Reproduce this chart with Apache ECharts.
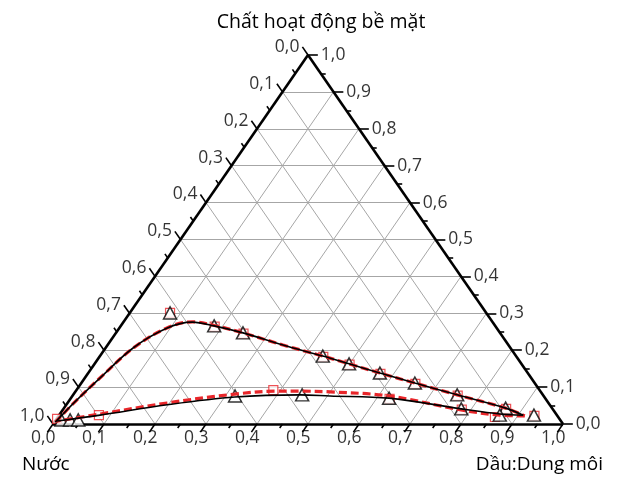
<!DOCTYPE html>
<html>
<head>
<meta charset="utf-8">
<script src="https://cdn.jsdelivr.net/npm/echarts@6/dist/echarts.min.js"></script>
<style>
  html, body { margin: 0; padding: 0; background: #fff; }
  #chart { width: 624px; height: 484px; }
</style>
</head>
<body>
<div id="chart"></div>
<script>
// phần khối lượng: dầu:dung môi (oil) và chất hoạt động bề mặt (surf); nước = 1 - oil - surf
const tickValues = [0, 0.1, 0.2, 0.3, 0.4, 0.5, 0.6, 0.7, 0.8, 0.9, 1.0];
const tickLabels = ['0,0', '0,1', '0,2', '0,3', '0,4', '0,5', '0,6', '0,7', '0,8', '0,9', '1,0'];
const minorValues = [0.05, 0.15, 0.25, 0.35, 0.45, 0.55, 0.65, 0.75, 0.85, 0.95];

// đường cong đen (nhánh trên, nhánh dưới)
const blackUpperOil  = [0.002, 0.013, 0.030, 0.054, 0.094, 0.135, 0.183, 0.249, 0.344, 0.437, 0.499, 0.572, 0.654, 0.753, 0.866, 0.910];
const blackUpperSurf = [0.005, 0.060, 0.125, 0.206, 0.260, 0.276, 0.266, 0.247, 0.214, 0.184, 0.163, 0.138, 0.111, 0.079, 0.043, 0.024];
const blackLowerOil  = [0.910, 0.863, 0.780, 0.624, 0.505, 0.445, 0.320, 0.198, 0.080, 0.004];
const blackLowerSurf = [0.024, 0.027, 0.041, 0.070, 0.076, 0.079, 0.073, 0.052, 0.024, 0.008];

// đường cong đỏ nét đứt
const redUpperOil  = [0.002, 0.013, 0.030, 0.055, 0.094, 0.135, 0.183, 0.249, 0.344, 0.437, 0.499, 0.572, 0.654, 0.753, 0.866, 0.914];
const redUpperSurf = [0.005, 0.060, 0.126, 0.207, 0.261, 0.277, 0.267, 0.247, 0.214, 0.184, 0.163, 0.138, 0.111, 0.079, 0.043, 0.022];
const redLowerOil  = [0.914, 0.864, 0.781, 0.621, 0.500, 0.440, 0.394, 0.316, 0.195, 0.079, 0.004];
const redLowerSurf = [0.022, 0.024, 0.038, 0.076, 0.087, 0.089, 0.089, 0.081, 0.057, 0.027, 0.008];

// điểm thực nghiệm
const triangleOil  = [0.079, 0.183, 0.249, 0.437, 0.499, 0.572, 0.654, 0.753, 0.866, 0.931, 0.864, 0.780, 0.624, 0.449, 0.319, 0.011, 0.028, 0.044];
const triangleSurf = [0.301, 0.266, 0.247, 0.184, 0.163, 0.138, 0.111, 0.079, 0.043, 0.024, 0.024, 0.041, 0.070, 0.079, 0.076, 0.011, 0.011, 0.011];
const squareOil  = [0.079, 0.185, 0.251, 0.439, 0.501, 0.574, 0.656, 0.755, 0.868, 0.933, 0.857, 0.782, 0.626, 0.386, 0.078, 0.001];
const squareSurf = [0.301, 0.264, 0.245, 0.182, 0.161, 0.136, 0.109, 0.077, 0.041, 0.022, 0.019, 0.039, 0.068, 0.092, 0.024, 0.014];

const toXY = (oil, surf) => [oil + surf / 2, surf];
const pts = (oil, surf) => oil.map((o, i) => toXY(o, surf[i]));

const TICK = 0.022, MINOR = 0.011, TICK_R = 0.0193, MINOR_R = 0.0097;

const chart = echarts.init(document.getElementById('chart'));

const gridLines = [];
for (let i = 1; i < 10; i++) {
  const v = tickValues[i];
  gridLines.push({ coords: [toXY(0, v), toXY(1 - v, v)] });
  gridLines.push({ coords: [toXY(v, 0), toXY(v, 1 - v)] });
  gridLines.push({ coords: [toXY(1 - v, 0), toXY(0, 1 - v)] });
}

const edges = [
  { coords: [toXY(0, 0), toXY(1, 0)] },
  { coords: [toXY(1, 0), toXY(0, 1)] },
  { coords: [toXY(0, 1), toXY(0, 0)] }
];

const ticks = [];
const addTicks = (vals, t, tr) => {
  vals.forEach(v => {
    // trục dưới (dầu:dung môi)
    ticks.push({ coords: [toXY(v, 0), toXY(v, -t)] });
    // trục trái (nước)
    ticks.push({ coords: [toXY(0, 1 - v), toXY(-t, 1 - v + t)] });
    // trục phải (chất hoạt động bề mặt)
    ticks.push({ coords: [toXY(1 - v, v), toXY(1 - v + tr, v)] });
  });
};
addTicks(tickValues, TICK, TICK_R);
addTicks(minorValues, MINOR, MINOR_R);

const FONT = 'Open Sans';
const labelFont = { fontSize: 17.5, fontFamily: FONT, color: '#000' };

const bottomLabels = tickValues.map((v, i) => ({ value: toXY(v, -0.038), name: tickLabels[i] }));
const leftLabels = tickValues.map((v, i) => ({ value: toXY(-TICK, 1 - v + TICK), name: tickLabels[i] }));
const rightLabels = tickValues.map((v, i) => ({ value: toXY(1 - v + TICK_R, v), name: tickLabels[i] }));

const labelSeries = (data, position) => ({
  type: 'scatter', data, symbolSize: 0, clip: false, silent: true,
  label: { show: true, position, distance: 3, formatter: p => p.name, ...labelFont }
});

const lineStyleOf = (color, width) => ({ color, width, opacity: 1 });

const option = {
  animation: false,
  grid: { left: 53, right: 61, top: 55, bottom: 60 },
  xAxis: { type: 'value', min: 0, max: 1, show: false },
  yAxis: { type: 'value', min: 0, max: 1, show: false },
  graphic: [
    { type: 'text', x: 321, y: 22, style: { text: 'Chất hoạt động bề mặt', fontSize: 19.5, fontFamily: FONT, fill: '#000', align: 'center', verticalAlign: 'middle' } },
    { type: 'text', x: 22, y: 465, style: { text: 'Nước', fontSize: 19, fontFamily: FONT, fill: '#000', align: 'left', verticalAlign: 'middle' } },
    { type: 'text', x: 603, y: 465, style: { text: 'Dầu:Dung môi', fontSize: 19, fontFamily: FONT, fill: '#000', align: 'right', verticalAlign: 'middle' } }
  ],
  series: [
    { type: 'lines', coordinateSystem: 'cartesian2d', clip: false, silent: true, data: gridLines, lineStyle: lineStyleOf('#a6a6a6', 1) },
    { type: 'lines', coordinateSystem: 'cartesian2d', clip: false, silent: true, data: ticks, lineStyle: lineStyleOf('#000', 1.6) },
    { type: 'lines', coordinateSystem: 'cartesian2d', clip: false, silent: true, data: edges, lineStyle: lineStyleOf('#000', 2.6) },
    labelSeries(bottomLabels, 'inside'),
    labelSeries(leftLabels, 'left'),
    labelSeries(rightLabels, 'right'),
    { type: 'line', data: pts(redUpperOil, redUpperSurf), smooth: 0.35, showSymbol: false, clip: false, lineStyle: { color: '#e8262a', width: 3.2, type: [8, 4] } },
    { type: 'line', data: pts(redLowerOil, redLowerSurf), smooth: 0.35, showSymbol: false, clip: false, lineStyle: { color: '#e8262a', width: 3.2, type: [8, 4] } },
    { type: 'line', data: pts(blackUpperOil, blackUpperSurf), smooth: 0.35, showSymbol: false, clip: false, lineStyle: { color: '#000', width: 1.6 } },
    { type: 'line', data: pts(blackLowerOil, blackLowerSurf), smooth: 0.35, showSymbol: false, clip: false, lineStyle: { color: '#000', width: 1.6 } },
    { type: 'scatter', data: pts(squareOil, squareSurf), symbol: 'rect', symbolSize: 9, clip: false,
      itemStyle: { color: '#fff', borderColor: '#e8262a', borderWidth: 1.2 } },
    { type: 'scatter', data: pts(triangleOil, triangleSurf), symbol: 'triangle', symbolSize: [13, 12], clip: false,
      itemStyle: { color: '#fff', borderColor: '#000', borderWidth: 1.5 } }
  ]
};

chart.setOption(option);
</script>
</body>
</html>
